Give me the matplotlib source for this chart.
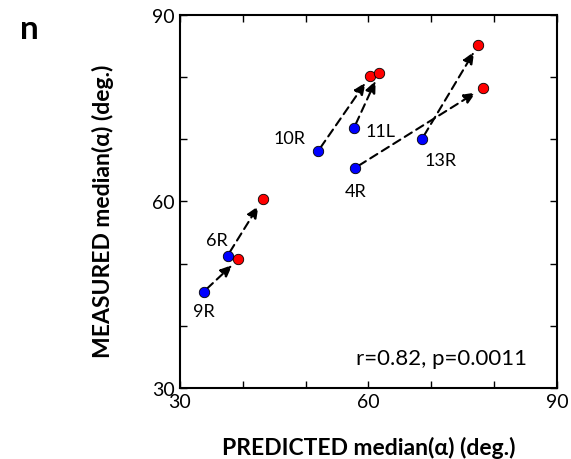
import numpy as np
import matplotlib.pyplot as plt

plt.rcParams['font.family'] = ['Lato', 'DejaVu Sans']

# predicted (x) and measured (y) medians, blue = before, red = after
names = ['9R', '6R', '10R', '11L', '4R', '13R']
pred_before = [33.8, 37.6, 52.0, 57.7, 57.9, 68.5]
meas_before = [45.5, 51.3, 68.1, 71.8, 65.4, 70.0]
pred_after = [39.3, 43.2, 60.3, 61.7, 78.2, 77.5]
meas_after = [50.7, 60.4, 80.2, 80.6, 78.2, 85.2]

# label offsets (points) and alignment per site
lab_off = {'9R': (0, -14, 'center'), '6R': (-8, 11, 'center'),
           '10R': (-9, 9, 'right'), '11L': (8, -2, 'left'),
           '4R': (0, -17, 'center'), '13R': (2, -15, 'left')}

fig = plt.figure(figsize=(5.71, 4.60), dpi=100)
ax = fig.add_axes([0.315, 0.154, 0.6605, 0.812])

for i in range(len(names)):
    ax.annotate('', xy=(pred_after[i], meas_after[i]),
                xytext=(pred_before[i], meas_before[i]),
                arrowprops=dict(arrowstyle='-|>,head_length=0.7,head_width=0.3',
                                linestyle=(0, (4, 2.5)), color='black', lw=1.5,
                                shrinkA=3, shrinkB=6))

ax.plot(pred_before, meas_before, 'o', ms=7.5, mfc='blue', mec='black', mew=0.6, zorder=5)
ax.plot(pred_after, meas_after, 'o', ms=7.5, mfc='red', mec='black', mew=0.6, zorder=5)

for i, n in enumerate(names):
    dx, dy, ha = lab_off[n]
    ax.annotate(n, (pred_before[i], meas_before[i]), xytext=(dx, dy),
                textcoords='offset points', ha=ha, va='center', fontsize=13)

ax.text(0.92, 0.065, 'r=0.82, p=0.0011', transform=ax.transAxes,
        ha='right', va='baseline', fontsize=16)

ax.set_xlim(30, 90)
ax.set_ylim(30, 90)
ax.set_xticks([30, 60, 90])
ax.set_yticks([30, 60, 90])
ax.set_xticks([40, 50, 70, 80], minor=True)
ax.set_yticks([40, 50, 70, 80], minor=True)
ax.tick_params(which='both', direction='in', top=True, right=True, labelsize=14)
ax.tick_params(which='major', length=5, width=1)
ax.tick_params(which='minor', length=5, width=1)
for s in ax.spines.values():
    s.set_linewidth(1.5)

ax.set_xlabel('PREDICTED median(α) (deg.)', fontsize=16.5, fontweight='bold', labelpad=19)
ax.set_ylabel('MEASURED median(α) (deg.)', fontsize=16.5, fontweight='bold')
ax.yaxis.set_label_coords(-0.175, 0.475)

fig.text(0.035, 0.915, 'n', fontsize=24, fontweight='bold')

fig.savefig('out.png', dpi=100)
